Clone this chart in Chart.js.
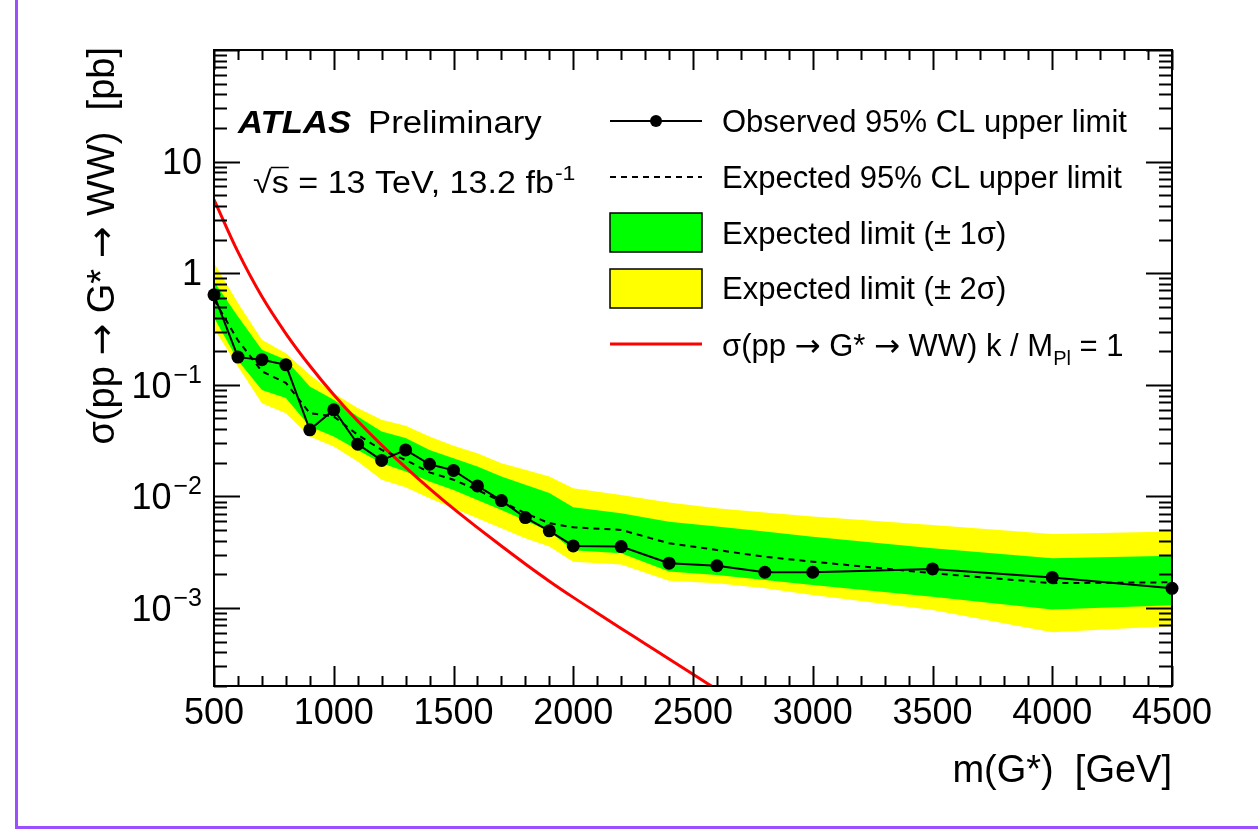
<!DOCTYPE html>
<html>
<head>
<meta charset="utf-8">
<script src="https://cdn.jsdelivr.net/npm/chart.js@4.4.0/dist/chart.umd.min.js"></script>
<style>
  body { margin: 0; background: #fff; }
  #wrap { width: 1258px; height: 830px; }
</style>
</head>
<body>
<div id="wrap"><canvas id="limitChart" width="1258" height="830"></canvas></div>
<script>
// resonance masses [GeV] and limits [pb]
const massPoints = [500, 600, 700, 800, 900, 1000, 1100, 1200, 1300, 1400, 1500, 1600, 1700, 1800, 1900, 2000, 2200, 2400, 2600, 2800, 3000, 3500, 4000, 4500];
const observedLimit = [0.64, 0.177, 0.168, 0.151, 0.0395, 0.0597, 0.0294, 0.0210, 0.0261, 0.0194, 0.0171, 0.0124, 0.00917, 0.00646, 0.00491, 0.00360, 0.00355, 0.00252, 0.00239, 0.00209, 0.00209, 0.00224, 0.00188, 0.00150];
const expectedLimit = [0.58, 0.25, 0.132, 0.104, 0.0557, 0.052, 0.0356, 0.0261, 0.0212, 0.0164, 0.0141, 0.0114, 0.0090, 0.00707, 0.00575, 0.00528, 0.00501, 0.0038, 0.00331, 0.00288, 0.0026, 0.00205, 0.00167, 0.0017];
const oneSigmaUp = [0.84, 0.41, 0.206, 0.168, 0.0966, 0.0733, 0.052, 0.0381, 0.0333, 0.0261, 0.022, 0.0185, 0.0151, 0.0127, 0.0107, 0.0080, 0.00707, 0.00594, 0.00536, 0.00484, 0.00436, 0.00343, 0.00279, 0.00294];
const oneSigmaDown = [0.40, 0.165, 0.090, 0.076, 0.0423, 0.0344, 0.0261, 0.0198, 0.0167, 0.0136, 0.0114, 0.0093, 0.00757, 0.00607, 0.00484, 0.0033, 0.0031, 0.00212, 0.00198, 0.00178, 0.00161, 0.00126, 0.00097, 0.00106];
const twoSigmaUp = [1.24, 0.54, 0.253, 0.192, 0.123, 0.084, 0.0618, 0.0486, 0.0429, 0.0344, 0.0284, 0.0244, 0.0198, 0.0173, 0.0151, 0.0118, 0.0103, 0.0088, 0.00783, 0.00716, 0.00659, 0.00555, 0.00461, 0.00484];
const twoSigmaDown = [0.32, 0.146, 0.0685, 0.0557, 0.0344, 0.028, 0.0205, 0.0141, 0.0121, 0.00964, 0.00783, 0.00637, 0.00519, 0.00422, 0.00355, 0.0026, 0.00245, 0.00175, 0.00167, 0.0015, 0.00131, 0.00096, 0.000605, 0.00069];

// theory curve, k/M_Pl = 1
const theoryMass = [500, 600, 700, 800, 900, 1000, 1100, 1200, 1300, 1400, 1500, 1600, 1700, 1800, 1900, 2000, 2100, 2200, 2300, 2400, 2500, 2600];
const theoryXs = [4.57, 1.55, 0.617, 0.288, 0.148, 0.0813, 0.0473, 0.0288, 0.0182, 0.01175, 0.00776, 0.00525, 0.00359, 0.00248, 0.00174, 0.001245, 0.000902, 0.000656, 0.000479, 0.000349, 0.000255, 0.000186];

// axis labels
const xTickValues = [500, 1000, 1500, 2000, 2500, 3000, 3500, 4000, 4500];
const xTickLabels = ['500', '1000', '1500', '2000', '2500', '3000', '3500', '4000', '4500'];
const yTickValues = [10, 1, 0.1, 0.01, 0.001];
const yTickBase = ['10', '1', '10', '10', '10'];
const yTickExp = ['', '', '\u22121', '\u22122', '\u22123'];

const legendLabels = ['Observed 95% CL upper limit', 'Expected 95% CL upper limit', 'Expected limit (\u00b1 1\u03c3)', 'Expected limit (\u00b1 2\u03c3)'];

const FONT = '"Liberation Sans", Arial, Helvetica, sans-serif';
const ARROW_FONT = '"DejaVu Sans", sans-serif';
const ARROW = '\u2192';
const GREEN = '#00ff00';
const YELLOW = '#ffff00';
const RED = '#ff0000';

function pts(xs, ys) {
    return xs.map((x, i) => ({ x: x, y: ys[i] }));
}

function line(ctx, x1, y1, x2, y2) {
    ctx.beginPath();
    ctx.moveTo(x1, y1);
    ctx.lineTo(x2, y2);
    ctx.stroke();
}

// text stretched a bit in x, like the original
function wideText(ctx, text, x, y, sx) {
    ctx.save();
    ctx.translate(x, y);
    ctx.scale(sx, 1);
    ctx.fillText(text, 0, 0);
    const w = ctx.measureText(text).width * sx;
    ctx.restore();
    return w;
}

// a string where the arrows come from DejaVu (Liberation's are tiny)
function splitArrows(text) {
    return text.split(ARROW).flatMap((s, i) => i === 0 ? [[s, FONT]] : [[ARROW, ARROW_FONT], [s, FONT]]);
}

function runsWidth(ctx, runs, size) {
    let w = 0;
    runs.forEach(r => { ctx.font = size + 'px ' + r[1]; w += ctx.measureText(r[0]).width; });
    return w;
}

function drawRuns(ctx, runs, x, y, size) {
    ctx.textAlign = 'left';
    runs.forEach(r => {
        ctx.font = size + 'px ' + r[1];
        ctx.fillText(r[0], x, y);
        x += ctx.measureText(r[0]).width;
    });
    return x;
}

const atlasDecor = {
    id: 'atlasDecor',
    beforeDraw(chart) {
        const ctx = chart.ctx;
        ctx.save();
        ctx.fillStyle = '#fff';
        ctx.fillRect(0, 0, chart.width, chart.height);
        ctx.strokeStyle = '#9a50ff';
        ctx.lineWidth = 3;
        ctx.beginPath();
        ctx.moveTo(16.5, 0);
        ctx.lineTo(16.5, 827.5);
        ctx.lineTo(chart.width, 827.5);
        ctx.stroke();
        ctx.restore();
    },
    afterDraw(chart) {
        const ctx = chart.ctx;
        const a = chart.chartArea;
        const xs = chart.scales.x;
        const ys = chart.scales.y;
        ctx.save();
        ctx.strokeStyle = '#000';
        ctx.fillStyle = '#000';
        ctx.lineWidth = 2;

        // inward ticks on all four sides
        for (let m = xs.min; m <= xs.max; m += 100) {
            const px = Math.round(xs.getPixelForValue(m)) + 0.5;
            const len = m % 500 === 0 ? 20 : 10;
            line(ctx, px, a.bottom, px, a.bottom - len);
            line(ctx, px, a.top, px, a.top + len);
        }
        for (let e = -4; e <= 2; e++) {
            for (let k = 1; k <= 9; k++) {
                const v = k * Math.pow(10, e);
                if (v < ys.min * 0.999 || v > ys.max * 1.001) continue;
                const py = Math.round(ys.getPixelForValue(v)) + 0.5;
                const len = k === 1 ? 26 : 13;
                line(ctx, a.left, py, a.left + len, py);
                line(ctx, a.right, py, a.right - len, py);
            }
        }
        ctx.strokeRect(a.left, a.top, a.right - a.left, a.bottom - a.top);

        // x tick labels
        ctx.font = '36px ' + FONT;
        ctx.textAlign = 'center';
        ctx.textBaseline = 'alphabetic';
        xTickValues.forEach((v, i) => {
            ctx.fillText(xTickLabels[i], xs.getPixelForValue(v), 724);
        });

        // y tick labels with superscript exponents
        const labelRight = a.left - 12;
        yTickValues.forEach((v, i) => {
            const py = ys.getPixelForValue(v);
            ctx.textAlign = 'right';
            if (yTickExp[i]) {
                ctx.font = '25px ' + FONT;
                ctx.textBaseline = 'alphabetic';
                const ew = ctx.measureText(yTickExp[i]).width;
                ctx.fillText(yTickExp[i], labelRight, py - 2);
                ctx.font = '36px ' + FONT;
                ctx.textBaseline = 'middle';
                ctx.fillText(yTickBase[i], labelRight - ew - 2, py + 3);
            } else {
                ctx.font = '36px ' + FONT;
                ctx.textBaseline = 'middle';
                ctx.fillText(yTickBase[i], labelRight, py + 2);
            }
        });

        // axis titles
        ctx.font = '38px ' + FONT;
        ctx.textAlign = 'right';
        ctx.textBaseline = 'alphabetic';
        ctx.fillText('m(G*)  [GeV]', a.right, 782);

        ctx.save();
        ctx.translate(104, a.top - 3);
        ctx.rotate(-Math.PI / 2);
        ctx.textBaseline = 'middle';
        const yTitle = splitArrows('\u03c3(pp \u2192 G* \u2192 WW)  [pb]');
        drawRuns(ctx, yTitle, -runsWidth(ctx, yTitle, 38), 0, 38);
        ctx.restore();

        // ATLAS label
        ctx.textAlign = 'left';
        ctx.textBaseline = 'alphabetic';
        ctx.font = 'italic bold 31px ' + FONT;
        wideText(ctx, 'ATLAS', 238, 133, 1.12);
        ctx.font = '31px ' + FONT;
        wideText(ctx, 'Preliminary', 368, 133, 1.12);
        const rootW = wideText(ctx, '\u221a', 253, 193, 1.1);
        const sW = wideText(ctx, 's', 253 + rootW, 193, 1.1);
        ctx.lineWidth = 1.5;
        line(ctx, 253 + rootW - 1, 167.5, 253 + rootW + sW, 167.5);
        const w = wideText(ctx, ' = 13 TeV, 13.2 fb', 253 + rootW + sW, 193, 1.1);
        ctx.font = '21px ' + FONT;
        wideText(ctx, '-1', 253 + rootW + sW + w + 1, 180, 1.1);

        // legend
        const lx0 = 610, lx1 = 702, tx = 722;
        const base = [132, 188, 244, 299, 356];
        ctx.font = '31px ' + FONT;
        legendLabels.forEach((t, i) => ctx.fillText(t, tx, base[i]));

        ctx.lineWidth = 2;
        line(ctx, lx0, 121, lx1, 121);
        ctx.beginPath();
        ctx.arc((lx0 + lx1) / 2, 121, 6, 0, Math.PI * 2);
        ctx.fill();

        ctx.setLineDash([6, 5]);
        line(ctx, lx0, 177, lx1, 177);
        ctx.setLineDash([]);

        ctx.lineWidth = 1.5;
        ctx.fillStyle = GREEN;
        ctx.fillRect(lx0, 213, lx1 - lx0, 39);
        ctx.strokeRect(lx0, 213, lx1 - lx0, 39);
        ctx.fillStyle = YELLOW;
        ctx.fillRect(lx0, 269, lx1 - lx0, 39);
        ctx.strokeRect(lx0, 269, lx1 - lx0, 39);

        ctx.strokeStyle = RED;
        ctx.lineWidth = 3;
        line(ctx, lx0, 344, lx1, 344);

        ctx.fillStyle = '#000';
        let x = drawRuns(ctx, splitArrows('\u03c3(pp \u2192 G* \u2192 WW) k / M'), tx, base[4], 31);
        ctx.font = '20px ' + FONT;
        ctx.fillText('Pl', x, base[4] + 9);
        x += ctx.measureText('Pl').width;
        ctx.font = '31px ' + FONT;
        ctx.fillText(' = 1', x, base[4]);

        ctx.restore();
    }
};

const ctx = document.getElementById('limitChart').getContext('2d');
const chart = new Chart(ctx, {
    type: 'line',
    data: {
        datasets: [
            {
                label: 'Observed',
                data: pts(massPoints, observedLimit),
                borderColor: '#000',
                borderWidth: 2,
                pointRadius: 6.5,
                pointBackgroundColor: '#000',
                pointBorderWidth: 0,
                tension: 0,
                fill: false,
                clip: false
            },
            {
                label: 'Expected',
                data: pts(massPoints, expectedLimit),
                borderColor: '#000',
                borderWidth: 2,
                borderDash: [6, 5],
                pointRadius: 0,
                tension: 0,
                fill: false
            },
            {
                label: 'Theory',
                data: pts(theoryMass, theoryXs),
                borderColor: RED,
                borderWidth: 3,
                pointRadius: 0,
                cubicInterpolationMode: 'monotone',
                fill: false
            },
            {
                label: '1 sigma up',
                data: pts(massPoints, oneSigmaUp),
                borderWidth: 0,
                borderColor: 'rgba(0,0,0,0)',
                backgroundColor: GREEN,
                pointRadius: 0,
                tension: 0,
                fill: '+1'
            },
            {
                label: '1 sigma down',
                data: pts(massPoints, oneSigmaDown),
                borderWidth: 0,
                borderColor: 'rgba(0,0,0,0)',
                pointRadius: 0,
                tension: 0,
                fill: false
            },
            {
                label: '2 sigma up',
                data: pts(massPoints, twoSigmaUp),
                borderWidth: 0,
                borderColor: 'rgba(0,0,0,0)',
                backgroundColor: YELLOW,
                pointRadius: 0,
                tension: 0,
                fill: '+1'
            },
            {
                label: '2 sigma down',
                data: pts(massPoints, twoSigmaDown),
                borderWidth: 0,
                borderColor: 'rgba(0,0,0,0)',
                pointRadius: 0,
                tension: 0,
                fill: false
            }
        ]
    },
    options: {
        responsive: false,
        animation: false,
        events: [],
        layout: {
            padding: { left: 214, top: 50, right: 86, bottom: 144 }
        },
        scales: {
            x: { type: 'linear', min: 500, max: 4500, display: false },
            y: { type: 'logarithmic', min: 0.0002, max: 100, display: false }
        },
        plugins: {
            legend: { display: false },
            tooltip: { enabled: false }
        }
    },
    plugins: [atlasDecor]
});
</script>
</body>
</html>
